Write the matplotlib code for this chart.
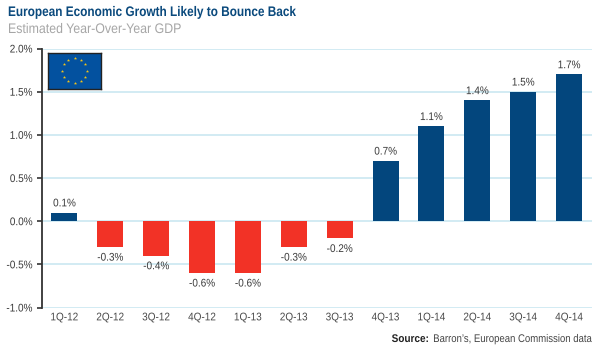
#!/usr/bin/env python3
# -*- coding: utf-8 -*-
import numpy as np
import matplotlib
matplotlib.use('Agg')
import matplotlib.pyplot as plt
from matplotlib.patheffects import AbstractPathEffect
from matplotlib.transforms import Affine2D

plt.rcParams['font.family'] = ['Liberation Sans', 'DejaVu Sans']

# data
quarters = ['1Q-12', '2Q-12', '3Q-12', '4Q-12', '1Q-13', '2Q-13', '3Q-13',
            '4Q-13', '1Q-14', '2Q-14', '3Q-14', '4Q-14']
gdp = [0.1, -0.3, -0.4, -0.6, -0.6, -0.3, -0.2, 0.7, 1.1, 1.4, 1.5, 1.7]
yticks = [-1.0, -0.5, 0.0, 0.5, 1.0, 1.5, 2.0]

BLUE = '#03467d'
RED = '#f23226'
GRID = '#c6e6f0'
W, H = 600, 350


# no narrow font installed, so squeeze the glyphs sideways when they are drawn
class Squeeze(AbstractPathEffect):
    def __init__(self, sx, anchor='center'):
        super().__init__()
        self.sx = sx
        self.anchor = anchor

    def draw_path(self, renderer, gc, tpath, affine, rgbFace=None):
        ext = tpath.get_extents()
        x0 = {'left': 0.0, 'center': (ext.x0 + ext.x1) / 2, 'right': ext.x1}[self.anchor]
        squeeze = Affine2D().translate(-x0, 0).scale(self.sx, 1).translate(x0, 0)
        renderer.draw_path(gc, tpath, squeeze + affine, rgbFace)


fig = plt.figure(figsize=(W / 100, H / 100), dpi=100)
ax = fig.add_axes([41.5 / W, 1 - 307.5 / H, (592 - 41.5) / W, (307.5 - 48.5) / H])

colors = [RED if v < 0 else BLUE for v in gdp]
x = np.arange(len(quarters))
ax.bar(x, gdp, width=0.565, color=colors, zorder=3)

for i, v in enumerate(gdp):
    if v >= 0:
        txt = ax.annotate(f'{v:.1f}%', (i, v), xytext=(0, 3), textcoords='offset points',
                          ha='center', va='bottom', fontsize=8, color='#3a3a3a', zorder=4)
    else:
        txt = ax.annotate(f'{v:.1f}%', (i, v), xytext=(0, -4), textcoords='offset points',
                          ha='center', va='top', fontsize=8, color='#3a3a3a', zorder=4)
    txt.set_path_effects([Squeeze(0.9)])

ax.set_xlim(-0.5, 11.5)
ax.set_ylim(-1.0, 2.0)
ax.set_yticks(yticks)
ax.set_yticklabels([f'{t:.1f}%' for t in yticks], fontsize=8, color='#3a3a3a')
ax.set_xticks(x)
ax.set_xticklabels(quarters, fontsize=8, color='#4a4a4a')
ax.tick_params(axis='x', length=0, pad=3.5)
ax.tick_params(axis='y', length=3.5, width=1.2, color='#333333', pad=3, direction='out')
for lab in ax.get_xticklabels():
    lab.set_path_effects([Squeeze(0.9)])
for lab in ax.get_yticklabels():
    lab.set_path_effects([Squeeze(0.9, 'right')])
ax.grid(axis='y', color=GRID, linewidth=1.1, zorder=0)
ax.set_axisbelow(True)
for s in ['top', 'right', 'bottom']:
    ax.spines[s].set_visible(False)
ax.spines['left'].set_color('#333333')
ax.spines['left'].set_linewidth(1.3)

# EU flag
flag = fig.add_axes([48 / W, 1 - 88.5 / H, 53 / W, 36 / H])
flag.set_xlim(-1.47, 1.47)
flag.set_ylim(-1, 1)
flag.set_xticks([])
flag.set_yticks([])
flag.set_facecolor('#03519f')
for s in flag.spines.values():
    s.set_color('#222222')
    s.set_linewidth(1)
angles = np.deg2rad(np.arange(0, 360, 30))
flag.scatter(0.68 * np.cos(angles), 0.68 * np.sin(angles), marker='*', s=6,
             color='#f5c518', linewidths=0)

# titles
fig.text(8 / W, 1 - 12 / H, 'European Economic Growth Likely to Bounce Back',
         fontsize=10, fontweight='bold', color='#0b4a7d', va='center',
         path_effects=[Squeeze(0.85, 'left')])
fig.text(8 / W, 1 - 29 / H, 'Estimated Year-Over-Year GDP',
         fontsize=10, color='#a6a6a6', va='center',
         path_effects=[Squeeze(0.89, 'left')])

# source
fig.text(593 / W, 1 - 339 / H, "Barron\u2019s, European Commission data",
         fontsize=8, color='#444444', ha='right', va='center',
         path_effects=[Squeeze(0.86, 'right')])
fig.text(429 / W, 1 - 339 / H, 'Source:', fontsize=8, fontweight='bold',
         color='#222222', ha='right', va='center',
         path_effects=[Squeeze(0.9, 'right')])

fig.savefig('out.png', dpi=100)
